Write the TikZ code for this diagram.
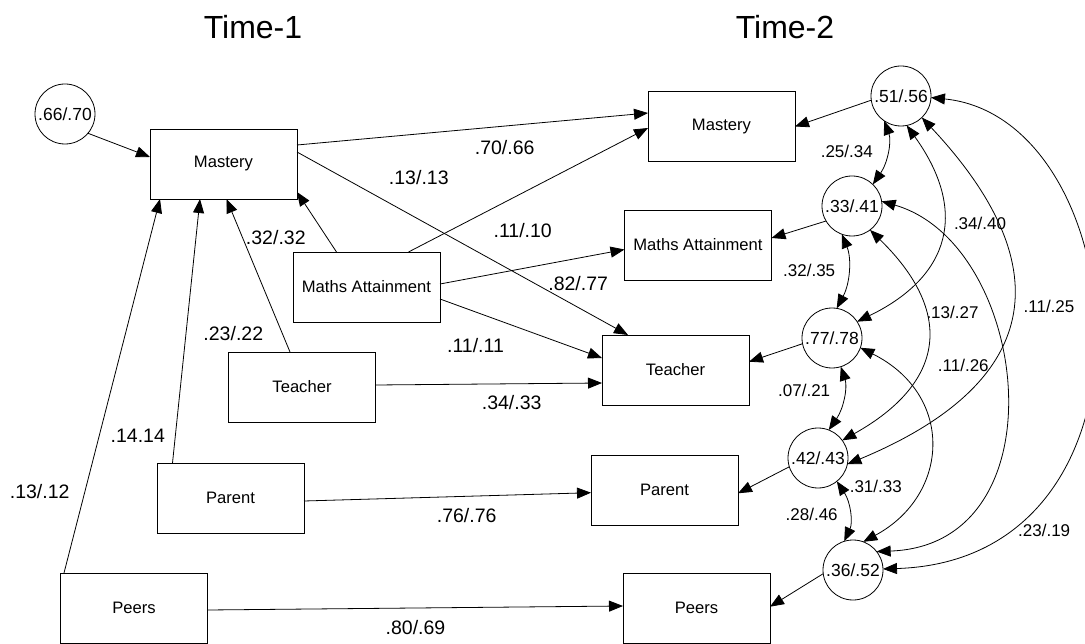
\documentclass[tikz,border=0pt]{standalone}
\usepackage{fontspec}
\setmainfont{Liberation Sans}
\usetikzlibrary{arrows.meta}
\begin{document}
\begin{tikzpicture}[x=1pt,y=-1pt,
  box/.style={draw, line width=0.8pt, minimum width=147pt, minimum height=70pt,
    inner sep=0pt, outer sep=0pt, font=\fontsize{16.6}{20}\selectfont},
  err/.style={draw, circle, line width=0.8pt, minimum size=60pt, inner sep=0pt,
    outer sep=0pt, font=\fontsize{17.5}{20}\selectfont},
  lab/.style={inner sep=0pt, font=\fontsize{19.5}{22}\selectfont},
  clab/.style={inner sep=0pt, font=\fontsize{17}{20}\selectfont},
  ttl/.style={inner sep=0pt, font=\fontsize{32}{38}\selectfont},
  tip/.tip={Triangle[length=14pt,width=11pt]},
  reg/.style={line width=0.8pt, -tip},
  cov/.style={line width=0.8pt, tip-tip}
]
\useasboundingbox (0,0) rectangle (1085,644);

% headings
\node[ttl] (time1) at (253,27) {Time-1};
\node[ttl] (time2) at (785,27) {Time-2};

% Time-1 measures
\node[box] (m1) at (223.5,164) {Mastery};
\node[box] (a1) at (366.5,287) {Maths Attainment};
\node[box] (t1) at (302,387) {Teacher};
\node[box] (p1) at (230.5,498) {Parent};
\node[box] (r1) at (134,608) {Peers};

% Time-2 measures
\node[box] (m2) at (721.5,126.5) {Mastery};
\node[box] (a2) at (698,245) {Maths Attainment};
\node[box] (t2) at (675.5,370) {Teacher};
\node[box] (p2) at (664.5,490) {Parent};
\node[box] (r2) at (696.5,608) {Peers};

% residual terms
\node[err] (e0) at (65,114) {.66/.70};
\node[err] (cA) at (901,96) {.51/.56};
\node[err] (cB) at (852,206) {.33/.41};
\node[err] (cC) at (832,338) {.77/.78};
\node[err] (cD) at (818,458) {.42/.43};
\node[err] (cE) at (853,570) {.36/.52};

% regression paths
\draw[reg] (e0.-40) -- ([yshift=7pt]m1.west);
\draw[reg] ([yshift=19pt]m1.east) -- ([yshift=13.5pt]m2.west);
\draw[reg] ([yshift=12pt]m1.east) -- ([xshift=-47.5pt]t2.north);
\draw[reg] ([xshift=-30pt]a1.north) -- ([yshift=-28pt]m1.east);
\draw[reg] ([xshift=42pt]a1.north) -- ([yshift=-1.5pt]m2.west);
\draw[reg] ([yshift=3pt]a1.east) -- ([yshift=-4.5pt]a2.west);
\draw[reg] ([yshift=-12pt]a1.east) -- ([yshift=12pt]t2.west);
\draw[reg] ([xshift=-12pt]t1.north) -- ([xshift=3pt]m1.south);
\draw[reg] ([yshift=2pt]t1.east) -- ([yshift=-13pt]t2.west);
\draw[reg] ([xshift=-58pt]p1.north) -- ([xshift=-23.5pt]m1.south);
\draw[reg] ([yshift=-3pt]p1.east) -- ([yshift=-2.7pt]p2.west);
\draw[reg] ([xshift=-70pt]r1.north) -- ([xshift=-63.5pt]m1.south);
\draw[reg] ([yshift=-2pt]r1.east) -- ([yshift=2pt]r2.west);

% residuals to Time-2 measures
\draw[reg] (cA.-172.5) -- (m2.east);
\draw[reg] (cB.-150) -- ([yshift=7pt]a2.east);
\draw[reg] (cC.-169.5) -- ([yshift=8.3pt]t2.east);
\draw[reg] (cD.-163.7) -- ([yshift=-3.3pt]p2.east);
\draw[reg] (cE.-173.7) -- ([yshift=1.3pt]r2.east);

% residual covariances
\draw[cov] (cA.-124) .. controls (891.7,141.3) and (887.9,162.5) .. (cB.46);
\draw[cov] (cB.-110) .. controls (851.8,258.5) and (850.1,283.3) .. (cC.81);
\draw[cov] (cC.-73) .. controls (847.7,387.3) and (843.7,408.4) .. (cD.69);
\draw[cov] (cD.-51) .. controls (850.6,502.2) and (853.1,522.2) .. (cE.107);
\draw[cov] (cA.-79) .. controls (967.8,210.5) and (951.3,275.9) .. (cC.33);
\draw[cov] (cA.-46) .. controls (1063.9,269) and (1039.1,384.5) .. (cD.-12);
\draw[cov] (cA.-3) .. controls (1135,118) and (1175,560) .. (cE.2);
\draw[cov] (cB.-53) .. controls (954.7,312.5) and (945.4,382.7) .. (cD.36);
\draw[cov] (cB.9) .. controls (1030,244) and (1064,545) .. (cE.38);
\draw[cov] (cC.-19) .. controls (955,395) and (950,495) .. (cE.70);

% path coefficients
\node[lab] (l1) at (504.7,147.2) {.70/.66};
\node[lab] (l2) at (418.8,177.5) {.13/.13};
\node[lab] (l3) at (522.7,230.5) {.11/.10};
\node[lab] (l4) at (578.2,283.5) {.82/.77};
\node[lab] (l5) at (475.5,345.2) {.11/.11};
\node[lab] (l6) at (275.8,237.2) {.32/.32};
\node[lab] (l7) at (233.3,333.3) {.23/.22};
\node[lab] (l8) at (511.7,402.5) {.34/.33};
\node[lab] (l9) at (137.8,435.8) {.14.14};
\node[lab] (l10) at (39.7,491.8) {.13/.12};
\node[lab] (l11) at (466.7,515.8) {.76/.76};
\node[lab] (l12) at (415.5,627.5) {.80/.69};

% covariance values
\node[clab] (k1) at (846.8,151.7) {.25/.34};
\node[clab] (k2) at (980,223) {.34/.40};
\node[clab] (k3) at (809.2,270.3) {.32/.35};
\node[clab] (k4) at (952.5,312.2) {.13/.27};
\node[clab] (k5) at (1049,306.7) {.11/.25};
\node[clab] (k6) at (804.2,390) {.07/.21};
\node[clab] (k7) at (963.3,365.5) {.11/.26};
\node[clab] (k8) at (875.8,486.5) {.31/.33};
\node[clab] (k9) at (811.7,514.2) {.28/.46};
\node[clab] (k10) at (1044.2,530.8) {.23/.19};
\end{tikzpicture}
\end{document}
